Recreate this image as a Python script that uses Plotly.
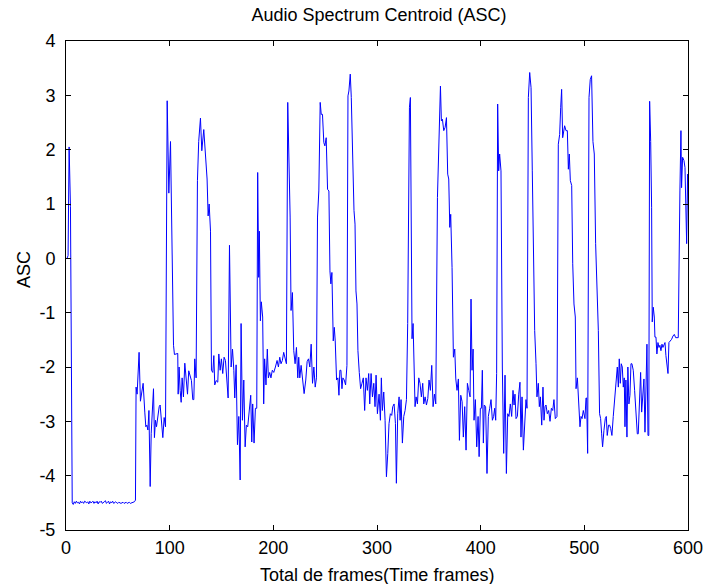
import plotly.graph_objects as go

# ---- data ----
start_frames = [1, 2, 3, 4.3, 6]
start_asc = [0.0, 0.05, 2.05, 0.95, -4.5]

flat_frames = list(range(7, 68))
flat_asc = [-4.53, -4.48, -4.51, -4.47, -4.50, -4.49, -4.52, -4.47, -4.50, -4.48,
            -4.51, -4.47, -4.49, -4.50, -4.48, -4.52, -4.47, -4.50, -4.49, -4.47,
            -4.51, -4.48, -4.50, -4.47, -4.52, -4.48, -4.49, -4.47, -4.51, -4.50,
            -4.48, -4.46, -4.51, -4.49, -4.47, -4.52, -4.48, -4.50, -4.47, -4.51,
            -4.49, -4.48, -4.50, -4.51, -4.49, -4.50, -4.51, -4.50, -4.49, -4.51,
            -4.50, -4.49, -4.51, -4.50, -4.49, -4.51, -4.50, -4.50, -4.49, -4.48,
            -4.45]

frames_a = [67.6, 68.6, 70.5, 71.8, 73, 74.4, 76, 77, 78, 79, 80, 81.2, 82.2, 83.4, 84.4, 85.3, 86.3, 87.3, 88.2, 89.9,
            90.8, 92.1, 93.4, 94.7, 96, 97.6, 99.2, 100.8, 102.4, 103.7, 104.6, 107.8, 108.2, 109.1, 110.1, 111.1, 112,
            113.3, 114.6, 115.9, 117.2, 118.4, 119.8, 121, 122.3, 123.3, 124.2, 125.5, 126.8, 128, 129.7, 131, 132.9,
            134.5, 136.1, 137.1, 138.1, 139.4, 140.3, 141.6, 142.6, 143.5, 144.8, 146.4, 147.4, 148.7, 149.9, 151.2,
            152.5, 153.8, 155.1, 156.4, 157.7, 159.3, 160.6, 161.9, 162.8, 164.1, 165.4, 166.7, 168, 168.9, 170.2,
            171.5, 172.8, 174, 175.3, 176.6, 178.2, 179.2, 180.1, 181.4, 182.7, 184, 184.9, 185.9, 186.5, 187.5,
            188.4, 189.7, 190.7, 191.6, 192.9, 194.2, 195.2, 196.5, 197.7, 199, 200.4]
asc_a = [-2.37, -2.5, -1.73, -2.63, -2.48, -2.3, -2.83, -3.1, -3.07, -3.16, -2.8, -4.2, -3.22, -2.73, -2.4, -3.3, -2.98, -3.1, -2.95, -2.73,
         -2.7, -3.04, -3.3, -2.93, -3.1, 2.9, 1.2, 2.15, -0.5, -1.6, -1.77, -1.75, -2.5, -2.0, -2.43, -2.65, -2.2,
         -2.55, -1.93, -2.3, -2.5, -2.07, -2.2, -2.25, -2.6, -2.6, -1.85, -2.2, 1.43, 2.15, 2.58, 1.98, 2.37,
         1.8, 1.46, 0.78, 1.0, 0.5, -2.06, -2.1, -1.79, -2.33, -2.25, -2.28, -1.76, -2.06, -1.85, -2.12,
         -1.82, -1.88, -2.3, -2.57, 0.24, -2.0, -1.67, -2.06, -2.57, -1.96, -3.43, -2.91, -4.08, -1.2, -2.98,
         -2.24, -3.47, -3.07, -3.1, -2.8, -2.52, -3.38, -2.68, -3.4, -2.76, -2.76, 1.58, -0.35, 0.5, -1.15,
         -0.8, -1.08, -2.68, -1.85, -2.33, -1.67, -2.2, -2.1, -2.2, -2.06, -2.1]

frames_b = [202, 203.6, 204.9, 206.2, 207.4, 208.7, 210, 211.3, 212.6, 213.9, 215.2, 216.2, 217.1, 218.4, 219.7, 221,
            222.3, 223.6, 224.5, 225.5, 226.8, 228.1, 229.7, 231.3, 232.6, 233.9, 235.2, 236.5, 237.8, 239.1, 240.4,
            241.6, 242.6, 243.9, 245.2, 246.2, 247.4, 248.7, 249.7, 251, 252.3, 253.6, 254.6, 255.5, 256.5, 257.8,
            258.8, 259.7, 261, 262.3, 263.3, 264.2, 265.2, 266.2, 267.1, 268.4, 269.7, 271, 272, 272.9, 274.2, 275.2,
            276.5, 277.8, 278.8, 279.7, 280.7, 281.6, 282.9, 284.2, 285.5, 286.8, 288.1, 289.4, 290.7, 292, 293,
            294.3, 295.6, 296.9, 298.1, 299.1, 300.4]
asc_b = [-2.0, -1.88, -2.0, -1.82, -1.94, -1.88, -1.73, -1.85, -1.94, 2.87, 1.95, 0.76, -0.96, -0.63, -1.7, -1.94,
         -1.64, -2.2, -1.82, -2.2, -1.97, -2.24, -2.49, -2.24, -1.9, -1.85, -2.0, -1.58, -2.3, -2.0, -2.37,
         -2.2, 0.76, 1.24, 2.87, 2.65, 2.65, 2.13, 2.07, 2.22, 1.27, 1.24, -0.23, -0.47, -0.26, -1.52,
         -1.27, -1.52, -2.24, -2.2, -2.52, -2.06, -2.06, -2.4, -2.2, -2.24, -2.33, -1.97, 2.99, 3.08, 3.39, 2.96,
         1.73, 0.88, 0.63, -0.6, -0.84, -1.7, -2.1, -2.4, -2.3, -2.2, -2.8, -2.2, -2.43, -2.12, -2.68,
         -2.12, -2.55, -2.3, -2.73, -2.15, -2.86]

frames_c = [302, 303.3, 304.2, 305.2, 306.5, 307.8, 309.1, 310.4, 311.6, 312.9, 314.2, 315.2, 316.5, 317.8, 318.7,
            320, 321.3, 322.3, 323.2, 324.5, 325.8, 327.1, 328.4, 329.6, 331.3, 332.2, 333.2, 333.8, 334.8, 335.8,
            336.7, 337.7, 339, 340.3, 341.5, 342.8, 344.1, 345.1, 346.4, 347.7, 349, 350.2, 351.5, 352.8, 354.1,
            355.4, 356.7, 358.3, 359.9, 361.2, 362.1, 363.1, 364.4, 365.7, 367, 368.2, 369.2, 370.2, 371.1, 372.4,
            373.7, 375, 376, 377.2, 378.5, 379.5, 380.8, 382.1, 383.3, 384.6, 385.9, 387.2, 388.5, 389.8, 390.7,
            391.7, 392.7, 393.6, 394.9, 396.2, 397.5, 398.5, 399.7]
asc_c = [-2.5, -2.98, -2.2, -2.8, -2.46, -2.98, -4.02, -3.59, -3.04, -2.86, -2.89, -2.73, -2.68, -3.04, -4.14,
         -2.86, -2.55, -2.98, -2.6, -3.4, -2.91, -2.8, -2.6, -1.2, 2.78, 2.96, 0.45, -1.48, -1.2, -1.94,
         -2.73, -2.55, -2.68, -2.2, -2.3, -2.55, -2.3, -2.68, -2.55, -2.7, -2.58, -2.24, -2.43, -1.97, -2.73,
         -2.5, -2.68, 1.12, 2.22, 3.17, 2.53, 2.56, 2.35, 2.41, 2.59, 1.55, 1.46, 0.57, 0.81, -0.17,
         -1.82, -1.67, -2.22, -2.43, -2.22, -3.35, -2.52, -2.64, -3.29, -2.73, -3.53, -2.3, -2.43, -2.55, -0.75,
         -2.06, -1.67, -2.98, -2.6, -3.47, -2.91, -3.65, -2.76]

frames_d = [400.7, 401.6, 402.6, 403.5, 404.8, 406.1, 407.4, 408.7, 410, 411.3, 412.5, 413.5, 414.5, 415.4, 416.4,
            417.4, 418.3, 419.6, 420.9, 422.2, 423.5, 424.8, 426.1, 427.3, 428.6, 429.9, 431.2, 432.2, 433.1, 434.1,
            435.4, 436.7, 437.9, 438.9, 439.9, 441.2, 442.5, 443.7, 444.7, 446, 447.3, 448.6, 449.8, 451.1, 452.1,
            453.4, 454.3, 455.6, 456.6, 457.6, 458.9, 460.1, 461.1, 462.1, 463, 464.3, 465.6, 466.9, 468.2, 469.5,
            470.7, 472, 473.6, 474.9, 476.2, 477.2, 478.1, 479.1, 480.1, 481, 482.3, 483.6, 484.6, 485.5, 486.5,
            487.8, 488.8, 490, 491.3, 492, 493.3, 494.5, 495.8, 496.8, 497.8, 499]
asc_d = [-2.76, -2.06, -3.4, -2.7, -2.73, -3.96, -2.91, -2.76, -2.6, -2.98, -2.91, -2.76, -2.98, -2.12, 2.84,
         1.61, 1.92, 1.61, -2.0, -3.59, -2.15, -3.96, -2.86, -2.91, -2.68, -2.91, -2.43, -2.7, -2.5, -2.95,
         -2.91, -2.5, -2.28, -3.29, -2.55, -3.53, -2.91, -2.6, -2.76, 2.96, 3.42, 3.14, 1.61, 0.2, -1.33,
         -1.94, -2.55, -2.3, -2.73, -2.55, -3.07, -2.37, -2.98, -2.73, -2.7, -2.86, -2.8, -3.0, -2.76, -2.8,
         -2.6, -2.95, -2.91, 2.1, 2.28, 2.78, 3.11, 2.22, 2.35, 2.44, 2.35, 2.35, 1.64, 1.92, 1.43,
         1.34, -0.1, -0.84, -1.08, -2.4, -2.2, -2.55, -3.1, -2.91, -2.95, -2.8]

frames_e = [500.6, 501.6, 502.2, 503.2, 504.5, 505.7, 507, 508.3, 509.6, 510.9, 512.2, 513.5, 514.7, 515.7, 516.7,
            517.6, 518.9, 520.2, 521.2, 522.1, 523.4, 524.4, 525.4, 526.6, 527.9, 529.2, 530.5, 531.8, 532.8, 533.7,
            534.7, 535.6, 536.6, 537.6, 538.5, 539.2, 540.1, 541.1, 542, 543, 544, 545, 545.9, 547.2, 548.5, 549.8,
            551.1, 552, 553, 554.3, 555.3, 556.2, 557.5, 558.5, 559.4, 560.4, 561.4, 562.2, 563, 564, 564.9, 565.5,
            566.5, 567.5, 568.1, 569.1, 570, 571, 572, 572.9, 573.9, 574.9, 575.8, 576.8, 577.8, 578.7, 579.7,
            580.7, 581.6, 582.9, 584.2, 585.5, 586.8, 588.1, 589.7, 590.6, 592.2, 593.2, 593.8, 594.8, 596.1,
            597.1, 598.7, 599.6, 600.5]
asc_e = [-2.95, -2.57, -2.57, -3.59, 2.96, 3.29, 3.36, 2.15, 1.92, 0.27, -0.72, -1.33, -2.86, -2.95, -3.23,
         -3.47, -3.17, -2.95, -2.91, -3.26, -3.07, -3.07, -3.13, -3.26, -2.91, -2.55, -2.37, -2.0, -2.37, -1.85,
         -2.3, -1.94, -2.0, -2.37, -2.2, -3.1, -2.24, -3.29, -2.0, -2.68, -2.52, -1.94, -1.94, -2.06, -2.43, -2.86,
         -3.23, -3.23, -2.68, -2.1, -2.83, -2.6, -2.22, -3.2, -2.24, -1.58, -3.26, -3.26, 2.89, 2.15, 0.94, -1.17,
         -0.9, -1.08, -1.45, -1.45, -1.76, -1.55, -1.64, -1.6, -1.7, -1.58, -1.64, -1.6, -1.55, -1.79, -1.94,
         -2.12, -1.55, -1.52, -1.49, -1.43, -1.4, -1.46, -1.46, -1.46, 1.24, 2.35, 1.3, 1.86, 1.8,
         1.67, 0.27, 1.55, 0.9]

x_ticks = [0, 100, 200, 300, 400, 500, 600]
y_ticks = [-5, -4, -3, -2, -1, 0, 1, 2, 3, 4]
x_ticktext = [str(v) for v in x_ticks]
y_ticktext = [str(v) for v in y_ticks]

frames = start_frames + flat_frames + frames_a + frames_b + frames_c + frames_d + frames_e
asc = start_asc + flat_asc + asc_a + asc_b + asc_c + asc_d + asc_e

FONT = "Liberation Sans, Arial, sans-serif"
FS = 18

fig = go.Figure(go.Scatter(x=frames, y=asc, mode="lines",
                           line=dict(color="#0000ff", width=1), hoverinfo="skip"))

axis_common = dict(showline=True, linecolor="black", linewidth=1, mirror="ticks",
                   ticks="inside", ticklen=5, tickcolor="black", tickwidth=1,
                   showgrid=False, zeroline=False, automargin=False,
                   tickfont=dict(family=FONT, size=FS, color="black"))

fig.update_layout(
    width=706, height=584,
    margin=dict(l=66, r=18, t=41, b=54, autoexpand=False),
    paper_bgcolor="white", plot_bgcolor="white",
    showlegend=False,
    title=dict(text="Audio Spectrum Centroid (ASC)", x=379 / 706, xanchor="center",
               y=1 - 15 / 584, yanchor="middle", yref="container", xref="container",
               font=dict(family=FONT, size=FS, color="black")),
    xaxis=dict(range=[0, 600], tickvals=x_ticks, ticktext=x_ticktext, ticklabelstandoff=1,
               **axis_common),
    yaxis=dict(range=[-5, 4], tickvals=y_ticks, ticktext=y_ticktext, ticklabelstandoff=6,
               **axis_common),
    annotations=[
        dict(text="Total de frames(Time frames)", xref="paper", yref="paper",
             x=0.5, y=0, xanchor="center", yanchor="middle", yshift=-45,
             showarrow=False, font=dict(family=FONT, size=FS, color="black")),
        dict(text="ASC", xref="paper", yref="paper", textangle=-90,
             x=0, y=(530 - 270) / 489, xanchor="center", yanchor="middle", xshift=-42,
             showarrow=False, font=dict(family=FONT, size=FS, color="black")),
    ],
)

fig.write_html("out.html")
